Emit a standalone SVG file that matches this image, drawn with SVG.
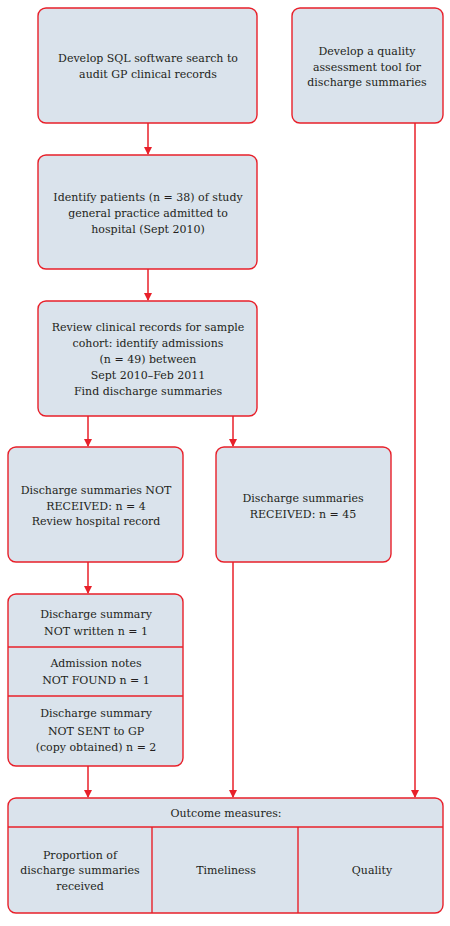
<svg xmlns="http://www.w3.org/2000/svg" width="450" height="926" viewBox="0 0 450 926">
<style>
.box{fill:#dae3ec;stroke:#e8202a;stroke-width:1.4}
.div{stroke:#e8202a;stroke-width:1.4;fill:none}
.c{stroke:#e8202a;stroke-width:1.5;fill:none}
text{font-family:"DejaVu Serif","Liberation Serif",serif;font-size:11px;fill:#231f20;text-anchor:middle}
</style>
<defs>
<marker id="ah" markerWidth="8" markerHeight="10" refX="7" refY="4" orient="auto" markerUnits="userSpaceOnUse" viewBox="0 0 8 8">
<path d="M0,0 L8,4 L0,8 Z" fill="#e8202a"/>
</marker>
</defs>
<rect width="450" height="926" fill="#fff"/>
<g id="connectors">
<line class="c" x1="148" y1="123" x2="148" y2="154" marker-end="url(#ah)"/>
<line class="c" x1="148" y1="269" x2="148" y2="300" marker-end="url(#ah)"/>
<line class="c" x1="88" y1="416" x2="88" y2="446" marker-end="url(#ah)"/>
<line class="c" x1="233" y1="416" x2="233" y2="446" marker-end="url(#ah)"/>
<line class="c" x1="88" y1="562" x2="88" y2="593" marker-end="url(#ah)"/>
<line class="c" x1="88" y1="766" x2="88" y2="797" marker-end="url(#ah)"/>
<line class="c" x1="233" y1="562" x2="233" y2="797" marker-end="url(#ah)"/>
<line class="c" x1="415" y1="123" x2="415" y2="797" marker-end="url(#ah)"/>
</g>
<g id="n1">
<rect class="box" x="38" y="8" width="219" height="115" rx="8"/>
<text x="148" y="62">Develop SQL software search to</text>
<text x="148" y="78">audit GP clinical records</text>
</g>
<g id="n2">
<rect class="box" x="292" y="8" width="151" height="115" rx="8"/>
<text x="367" y="55">Develop a quality</text>
<text x="367" y="71">assessment tool for</text>
<text x="367" y="86">discharge summaries</text>
</g>
<g id="n3">
<rect class="box" x="38" y="155" width="219" height="114" rx="8"/>
<text x="148" y="201">Identify patients (n = 38) of study</text>
<text x="148" y="217">general practice admitted to</text>
<text x="148" y="233">hospital (Sept 2010)</text>
</g>
<g id="n4">
<rect class="box" x="38" y="301" width="219" height="115" rx="8"/>
<text x="148" y="331">Review clinical records for sample</text>
<text x="148" y="347">cohort: identify admissions</text>
<text x="148" y="363">(n = 49) between</text>
<text x="148" y="379">Sept 2010–Feb 2011</text>
<text x="148" y="395">Find discharge summaries</text>
</g>
<g id="n5">
<rect class="box" x="8" y="447" width="175" height="115" rx="8"/>
<text x="96" y="494">Discharge summaries NOT</text>
<text x="96" y="510">RECEIVED: n = 4</text>
<text x="96" y="525">Review hospital record</text>
</g>
<g id="n6">
<rect class="box" x="216" y="447" width="175" height="115" rx="8"/>
<text x="303" y="502">Discharge summaries</text>
<text x="303" y="518">RECEIVED: n = 45</text>
</g>
<g id="n7">
<rect class="box" x="8" y="594" width="175" height="172" rx="8"/>
<line class="div" x1="8" y1="647" x2="183" y2="647"/>
<line class="div" x1="8" y1="696" x2="183" y2="696"/>
<text x="96" y="618">Discharge summary</text>
<text x="96" y="635">NOT written n = 1</text>
<text x="96" y="667">Admission notes</text>
<text x="96" y="684">NOT FOUND n = 1</text>
<text x="96" y="717">Discharge summary</text>
<text x="96" y="735">NOT SENT to GP</text>
<text x="96" y="751">(copy obtained) n = 2</text>
</g>
<g id="n8">
<rect class="box" x="8" y="798" width="435" height="115" rx="8"/>
<line class="div" x1="8" y1="827" x2="443" y2="827"/>
<line class="div" x1="152" y1="827" x2="152" y2="913"/>
<line class="div" x1="298" y1="827" x2="298" y2="913"/>
<text x="226" y="817">Outcome measures:</text>
<text x="80" y="859">Proportion of</text>
<text x="80" y="874">discharge summaries</text>
<text x="80" y="890">received</text>
<text x="226" y="874">Timeliness</text>
<text x="372" y="874">Quality</text>
</g>
</svg>
